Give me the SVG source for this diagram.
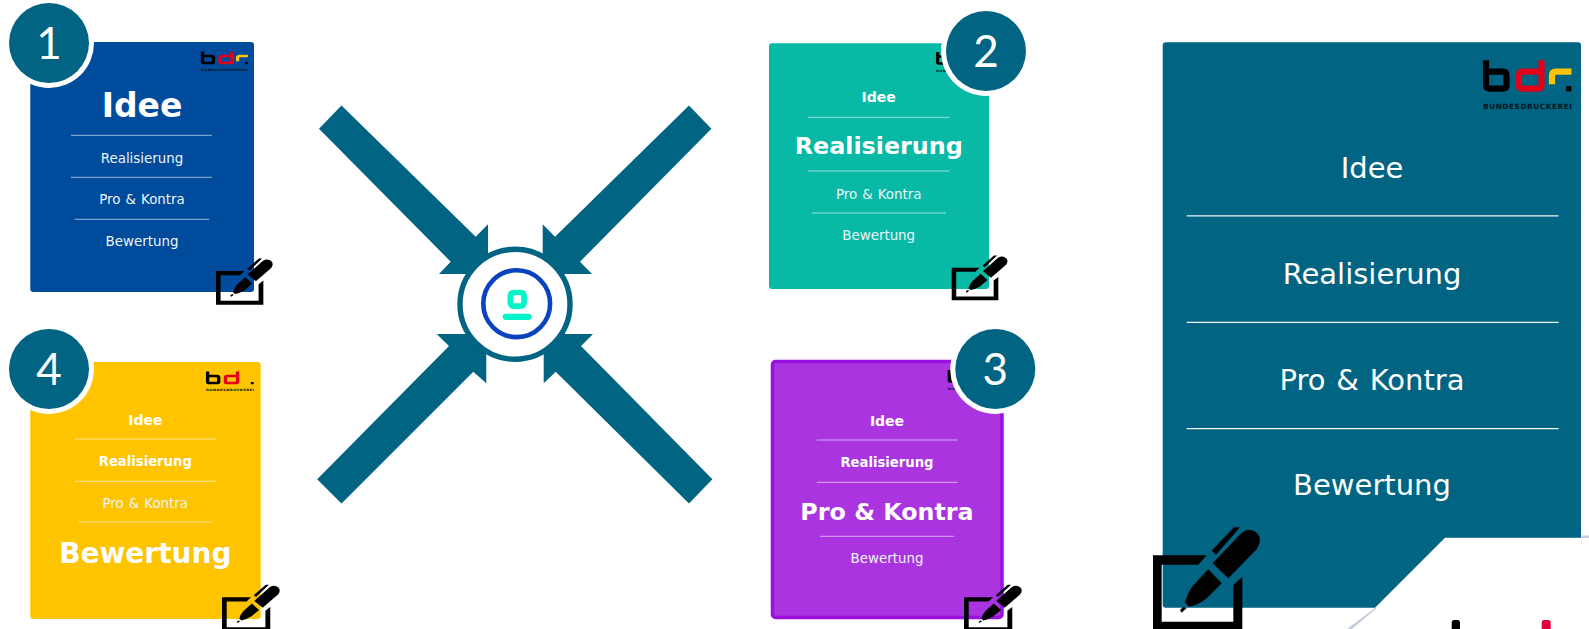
<svg xmlns="http://www.w3.org/2000/svg" xmlns:xlink="http://www.w3.org/1999/xlink" width="1589" height="629" viewBox="0 0 1589 629">
<style>
text{font-family:"DejaVu Sans","Liberation Sans",sans-serif;fill:#fff;text-anchor:middle}
.s{font-size:13.4px;fill:#eef4f8}
.pk{word-spacing:.8px}
.b{font-weight:bold;font-size:14px}
.bs{font-weight:bold;font-size:13.2px}
.B{font-weight:bold;font-size:23.8px}
.big{font-size:29px}
.n{font-family:"Lato","Open Sans",sans-serif;font-size:44px;font-weight:400}
.l{stroke:#fff;stroke-opacity:.6;stroke-width:1}
.lb{stroke:#fff;stroke-opacity:.95;stroke-width:1.3}
.t{fill:#006482}
.r{fill:#fff}
.a{fill:#006482}
</style>
<defs>
<g id="pen">
<path d="M69 376H230L205 404H95V575H310V465L337 440V601H69Z"/>
<path d="M245 362L312 292H330L258 374Z"/>
<path d="M248 400L335 308Q360 290 382 310Q398 330 380 358L295 445Z"/>
<path d="M235 418L275 460L232 503Q205 525 177 530L165 518Q172 490 188 468Z"/>
<path d="M150 540L160 530L170 534L155 548Z"/>
</g>
<g id="logo" fill="none" stroke-width="6.2">
<path stroke="#000" d="M3 1V26Q3 29.3 7 29.3H20Q23.5 29.3 23.5 26V16Q23.5 12.3 20 12.3H4"/>
<path stroke="#e2001a" d="M58.5 1V26Q58.5 29.3 55 29.3H39.5Q36 29.3 36 26V16Q36 12.3 39.5 12.3H58"/>
<path stroke="#ffc400" d="M69 25V16Q69 12.3 73 12.3H88.5"/>
<rect x="83" y="26.7" width="5.4" height="5.6" rx="1" fill="#000" stroke="none"/>
<text x="0" y="50" textLength="89" lengthAdjust="spacing" style="font-size:7.3px;font-weight:bold;fill:#04141c;text-anchor:start">BUNDESDRUCKEREI</text>
</g>
</defs>

<g id="connectors">
<path class="a" d="M341.5 105.4L475.7 236.7L488 224.3V274H439L450.7 261.7L319 128.7Z"/>
<path class="a" d="M689 105.4L555 236.7L542.7 224.3V274H592L580 261.7L711.4 128.7Z"/>
<path class="a" d="M317.2 479.3L449 346L436.7 334H486.3V383.3L473.3 371.7L341.5 503.6Z"/>
<path class="a" d="M712.4 479.3L581 346L593 334H543.7V383.3L555.7 371.7L689 503.6Z"/>
</g>

<g id="center">
<circle cx="515" cy="304.3" r="55" fill="#fff" stroke="#006482" stroke-width="5.4"/>
<circle cx="516.7" cy="303.7" r="33.4" fill="#fff" stroke="#0a43c0" stroke-width="4.6"/>
<rect x="510.4" y="292.5" width="13.6" height="13.6" rx="3" fill="none" stroke="#00f5c8" stroke-width="5.7"/>
<path d="M505.8 316.8H528.6" fill="none" stroke="#00f5c8" stroke-width="6.3" stroke-linecap="round"/>
</g>

<g id="card-1">
<rect x="30.3" y="42" width="223.7" height="250" rx="3" fill="#004b9b"/>
<use xlink:href="#logo" href="#logo" transform="translate(201 51) scale(.53 .41)"/>
<text class="B" x="142" y="116.7" style="font-size:33px">Idee</text>
<path class="l" d="M71 135.3H212M71 177.3H212M74.7 219.3H209"/>
<text class="s" x="142" y="163">Realisierung</text>
<text class="s pk" x="142" y="204">Pro &amp; Kontra</text>
<text class="s" x="142" y="246">Bewertung</text>
<use xlink:href="#pen" href="#pen" transform="translate(203.8 214.6) scale(.1767 .15)"/>
<circle class="r" cx="49" cy="43" r="45"/>
<circle class="t" cx="49" cy="43" r="40"/>
<text class="n" x="49" y="59.3">1</text>
</g>

<g id="card-2">
<rect x="769" y="43.3" width="220" height="245.7" rx="3" fill="#08baa5"/>
<use xlink:href="#logo" href="#logo" transform="translate(936 51.5) scale(.53 .41)"/>
<text class="b" x="878.7" y="101.7">Idee</text>
<path class="l" d="M808.3 117.3H949.3M808.3 171H949.3M811.7 213H946"/>
<text class="B" x="878.7" y="154">Realisierung</text>
<text class="s pk" x="878.7" y="199">Pro &amp; Kontra</text>
<text class="s" x="878.7" y="240">Bewertung</text>
<use xlink:href="#pen" href="#pen" transform="translate(939.7 213.2) scale(.174 .145)"/>
<circle class="r" cx="986" cy="51" r="45"/>
<circle class="t" cx="986" cy="51" r="40"/>
<text class="n" x="986" y="66.7">2</text>
</g>

<g id="card-3">
<rect x="772.5" y="361.5" width="229.5" height="256" rx="3" fill="#aa34e0" stroke="#9b10de" stroke-width="3.5"/>
<use xlink:href="#logo" href="#logo" transform="translate(947.7 369.5) scale(.53 .41)"/>
<text class="b" x="887" y="426">Idee</text>
<path class="l" d="M816.7 440H957.7M816.7 482.3H957.7M819.7 536.3H954"/>
<text class="bs" x="887" y="467">Realisierung</text>
<text class="B" x="887" y="520">Pro &amp; Kontra</text>
<text class="s" x="887" y="563.3">Bewertung</text>
<use xlink:href="#pen" href="#pen" transform="translate(951.6 540.9) scale(.18 .15)"/>
<circle class="r" cx="995.3" cy="369" r="45"/>
<circle class="t" cx="995.3" cy="369" r="40"/>
<text class="n" x="995.3" y="385">3</text>
</g>

<g id="card-4">
<rect x="30.3" y="362" width="230.4" height="257" rx="3" fill="#ffc400"/>
<use xlink:href="#logo" href="#logo" transform="translate(206 371) scale(.54 .41)"/>
<text class="b" x="145.3" y="425">Idee</text>
<path class="l" d="M75 439H216M75 481.3H216M78.3 522H212.3"/>
<text class="bs" x="145.3" y="466">Realisierung</text>
<text class="s pk" x="145.3" y="508">Pro &amp; Kontra</text>
<text class="B" x="145.3" y="563.3" style="font-size:28px">Bewertung</text>
<use xlink:href="#pen" href="#pen" transform="translate(209.6 540.9) scale(.18 .15)"/>
<circle class="r" cx="49" cy="369" r="45"/>
<circle class="t" cx="49" cy="369" r="40"/>
<text class="n" x="49" y="385">4</text>
</g>

<g id="card-big">
<path d="M1581.7 535.5H1589V538H1581.7ZM1375 608L1347 629H1352L1377 608Z" fill="#c6cbde"/>
<path d="M1451.7 629V623Q1451.7 620 1454 620H1457.7Q1460 620 1460 623V629Z" fill="#000"/>
<path d="M1541.7 629V623Q1541.7 620 1544 620H1548.4Q1550.7 620 1550.7 623V629Z" fill="#e2003c"/>
<path d="M1166 42.3H1578Q1581 42.3 1581 45.3V537.7H1445L1375 607.7H1166Q1162.7 607.7 1162.7 604.7V45.3Q1162.7 42.3 1166 42.3Z" fill="#006482"/>
<use xlink:href="#logo" href="#logo" transform="translate(1483 59.3)"/>
<text class="big" x="1372" y="178">Idee</text>
<path class="lb" d="M1186.7 215.9H1558.6M1186.7 322.3H1558.6M1186.7 428.7H1558.6"/>
<text class="big" x="1372" y="283.5">Realisierung</text>
<text class="big" x="1372" y="389.5" style="word-spacing:1.6px">Pro &amp; Kontra</text>
<text class="big" x="1372" y="494.5">Bewertung</text>
<use xlink:href="#pen" href="#pen" transform="translate(1130 430) scale(.3333)"/>
</g>
</svg>
